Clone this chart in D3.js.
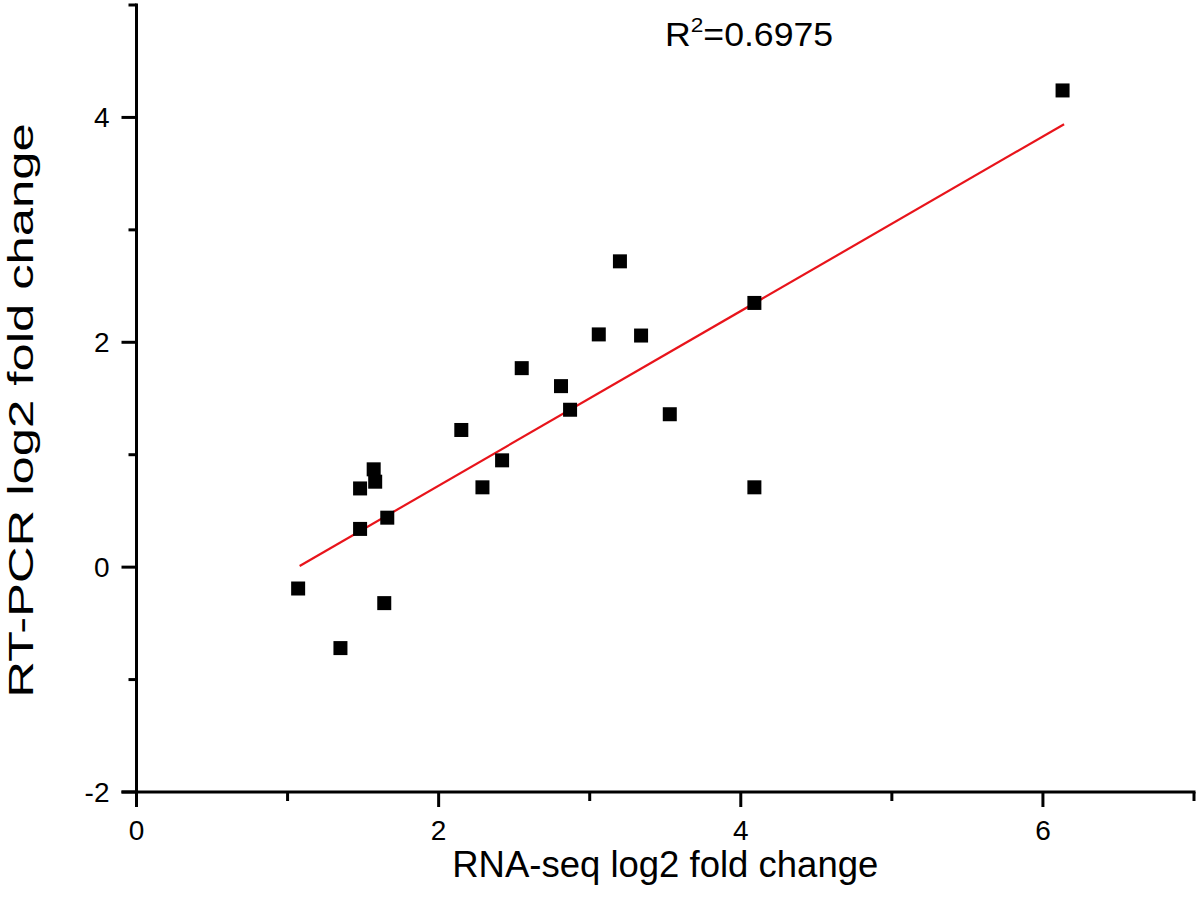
<!DOCTYPE html>
<html>
<head>
<meta charset="utf-8">
<script src="https://cdn.jsdelivr.net/npm/d3@7"></script>
<style>
  html, body { margin: 0; padding: 0; background: #fff; }
  svg { display: block; font-family: "Liberation Sans", Arial, sans-serif; }
</style>
</head>
<body>
<svg id="chart" width="1200" height="912"></svg>
<script>
// RNA-seq log2 fold change (x) vs RT-PCR log2 fold change (y)
const rnaSeq = [1.07, 1.35, 1.48, 1.48, 1.57, 1.58, 1.64, 1.66, 2.15, 2.29, 2.42, 2.55, 2.81, 2.87, 3.06, 3.20, 3.34, 3.53, 4.09, 4.09, 6.13];
const rtPcr  = [-0.19, -0.72, 0.34, 0.70, 0.87, 0.76, -0.32, 0.44, 1.22, 0.71, 0.95, 1.77, 1.61, 1.40, 2.07, 2.72, 2.06, 1.36, 2.35, 0.71, 4.24];
// fitted line endpoints
const fitX = [1.08, 6.14];
const fitY = [0.01, 3.94];
const xMajorTicks = [0, 2, 4, 6];
const xMinorTicks = [1, 3, 5, 7];
const yMajorTicks = [-2, 0, 2, 4];
const yMinorTicks = [-1, 1, 3, 5];
const rSquaredLabel = "0.6975";

const svg = d3.select("#chart");
const x = d3.scaleLinear().domain([0, 7]).range([136.5, 1194]);
const y = d3.scaleLinear().domain([-2, 5]).range([792, 5]);

const AXW = 3;

// X axis
const xAxis = svg.append("g").attr("transform", `translate(0,${y(-2)})`);
xAxis.append("line").attr("x1", x(0) - 15).attr("x2", x(7) + 1.5)
  .attr("stroke", "#000").attr("stroke-width", AXW);
xAxis.selectAll("line.maj").data(xMajorTicks).join("line").attr("class", "maj")
  .attr("x1", d => x(d)).attr("x2", d => x(d)).attr("y1", 0).attr("y2", 15)
  .attr("stroke", "#000").attr("stroke-width", AXW);
xAxis.selectAll("line.min").data(xMinorTicks).join("line").attr("class", "min")
  .attr("x1", d => x(d)).attr("x2", d => x(d)).attr("y1", 0).attr("y2", 9)
  .attr("stroke", "#000").attr("stroke-width", AXW);
xAxis.selectAll("text").data(xMajorTicks).join("text")
  .attr("x", d => x(d)).attr("y", 48)
  .attr("text-anchor", "middle").attr("font-size", 28).attr("fill", "#000")
  .text(d => d);

// Y axis
const yAxis = svg.append("g").attr("transform", `translate(${x(0)},0)`);
yAxis.append("line").attr("y1", y(5) - 1.5).attr("y2", y(-2) + 15)
  .attr("stroke", "#000").attr("stroke-width", AXW);
yAxis.selectAll("line.maj").data(yMajorTicks).join("line").attr("class", "maj")
  .attr("y1", d => y(d)).attr("y2", d => y(d)).attr("x1", 0).attr("x2", -15)
  .attr("stroke", "#000").attr("stroke-width", AXW);
yAxis.selectAll("line.min").data(yMinorTicks).join("line").attr("class", "min")
  .attr("y1", d => y(d)).attr("y2", d => y(d)).attr("x1", 0).attr("x2", -8)
  .attr("stroke", "#000").attr("stroke-width", AXW);
yAxis.selectAll("text").data(yMajorTicks).join("text")
  .attr("x", -27).attr("y", d => y(d) + 10)
  .attr("text-anchor", "end").attr("font-size", 28).attr("fill", "#000")
  .text(d => d);

// Fit line
svg.append("line")
  .attr("x1", x(fitX[0])).attr("y1", y(fitY[0]))
  .attr("x2", x(fitX[1])).attr("y2", y(fitY[1]))
  .attr("stroke", "#e8141b").attr("stroke-width", 2.2);

// Points
const pts = rnaSeq.map((v, i) => ({ x: v, y: rtPcr[i] }));
const S = 14;
svg.selectAll("rect.pt").data(pts).join("rect").attr("class", "pt")
  .attr("x", d => x(d.x) - S / 2).attr("y", d => y(d.y) - S / 2)
  .attr("width", S).attr("height", S).attr("fill", "#000");

// R^2 annotation
const r2 = svg.append("text")
  .attr("transform", "translate(665,46) scale(1.08,1)")
  .attr("font-size", 33).attr("fill", "#000");
r2.append("tspan").text("R");
r2.append("tspan").attr("dy", -14).attr("font-size", 21).text("2");
r2.append("tspan").attr("dy", 14).text("=" + rSquaredLabel);

// Axis titles
svg.append("text").attr("x", (x(0) + x(7)) / 2).attr("y", 877)
  .attr("text-anchor", "middle").attr("font-size", 36.5).attr("fill", "#000")
  .text("RNA-seq log2 fold change");
svg.append("text")
  .attr("transform", `translate(33,${(y(5) + y(-2)) / 2 + 12}) rotate(-90) scale(1.45,1)`)
  .attr("text-anchor", "middle").attr("font-size", 35).attr("fill", "#000")
  .text("RT-PCR log2 fold change");
</script>
</body>
</html>
